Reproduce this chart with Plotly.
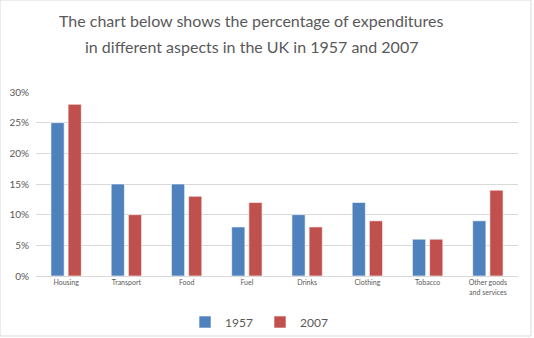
import plotly.graph_objects as go

categories = ["Housing", "Transport", "Food", "Fuel", "Drinks", "Clothing", "Tobacco", "Other goods<br>and services"]
values_1957 = [25, 15, 15, 8, 10, 12, 6, 9]
values_2007 = [28, 10, 13, 12, 8, 9, 6, 14]
y_ticks = [0, 5, 10, 15, 20, 25, 30]
y_tick_labels = ["0%", "5%", "10%", "15%", "20%", "25%", "30%"]
title_lines = ["The chart below shows the percentage of expenditures",
               "in different aspects in the UK in 1957 and 2007"]

FONT = "Lato, 'Liberation Sans', sans-serif"
GRAY = "#595959"
W, H = 534, 338
L, R, T, B = 36, 16, 92, 62
PH = H - T - B
PW = W - L - R

fig = go.Figure()
fig.add_trace(go.Bar(name="1957", x=categories, y=values_1957,
                     marker=dict(color="#4F81BD", line=dict(color="rgba(255,255,255,0.6)", width=1))))
fig.add_trace(go.Bar(name="2007", x=categories, y=values_2007,
                     marker=dict(color="#C0504D", line=dict(color="rgba(255,255,255,0.6)", width=1))))

fig.update_layout(
    width=W, height=H,
    margin=dict(l=L, r=R, t=T, b=B, autoexpand=False),
    paper_bgcolor="white", plot_bgcolor="white",
    barmode="group", bargap=0.43, bargroupgap=0.23,
    font=dict(family=FONT, color=GRAY),
    legend=dict(orientation="h", xref="container", yref="container",
                x=260 / W, xanchor="center", y=1 - 322 / H, yanchor="middle",
                bgcolor="rgba(0,0,0,0)", tracegroupgap=0,
                font=dict(size=12, color=GRAY), itemwidth=30, entrywidth=30, traceorder="normal"),
    showlegend=True,
)
for i, (line, yc) in enumerate(zip(title_lines, [21, 46])):
    fig.add_annotation(text=line, xref="paper", yref="paper",
                       x=(251 - L) / PW, y=1 + (T - yc) / PH, xanchor="center", yanchor="middle",
                       showarrow=False, font=dict(family=FONT, size=16, color=GRAY))
fig.update_yaxes(range=[0, 30], tickvals=y_ticks, ticktext=y_tick_labels, automargin=False,
                 showgrid=True, gridcolor="#D9D9D9", gridwidth=1, zeroline=False,
                 showline=False, ticks="", ticklabelstandoff=6,
                 tickfont=dict(size=10, color=GRAY))
fig.update_xaxes(showline=True, linecolor="#D9D9D9", linewidth=1, ticks="", automargin=False,
                 tickfont=dict(size=7, color=GRAY))
fig.add_shape(type="rect", xref="paper", yref="paper",
              x0=-L / PW, x1=(531 - L) / PW, y0=-(336 - (H - B)) / PH, y1=1 + T / PH,
              line=dict(color="#D9D9D9", width=1), fillcolor="rgba(0,0,0,0)", layer="below")

fig.write_html("out.html")
